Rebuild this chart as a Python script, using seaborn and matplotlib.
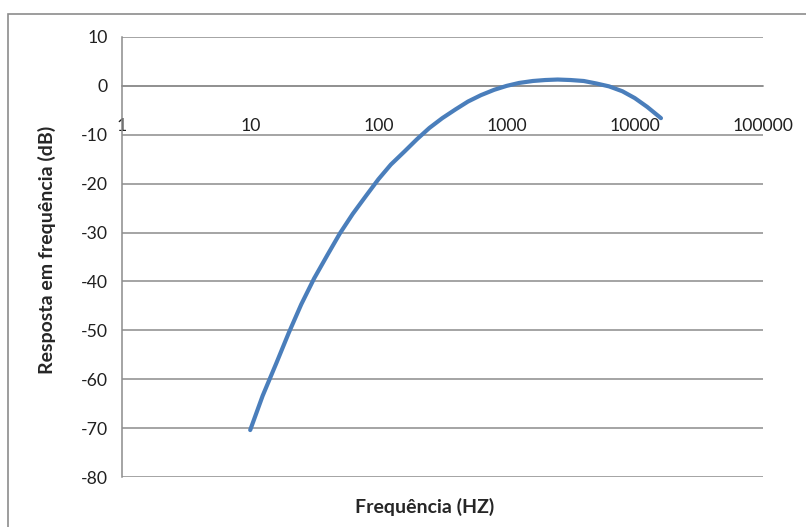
import matplotlib
matplotlib.use("Agg")
import matplotlib.pyplot as plt
import matplotlib.patches as mpatches
from matplotlib.ticker import FixedLocator, FixedFormatter
import seaborn as sns
import pandas as pd

# frequency response (Hz, dB)
freq_hz = [10, 12.5, 16, 20, 25, 31.5, 40, 50, 63, 80, 100, 125, 160, 200,
           250, 315, 400, 500, 630, 800, 1000, 1250, 1600, 2000, 2500, 3150,
           4000, 5000, 6300, 8000, 10000, 12500, 16000]
resp_db = [-70.4, -63.4, -56.7, -50.5, -44.7, -39.4, -34.6, -30.2, -26.2,
           -22.5, -19.1, -16.1, -13.4, -10.9, -8.6, -6.6, -4.8, -3.2, -1.9,
           -0.8, 0.0, 0.6, 1.0, 1.2, 1.3, 1.2, 1.0, 0.5, -0.1, -1.1, -2.5,
           -4.3, -6.6]
x_ticks = [1, 10, 100, 1000, 10000, 100000]
x_tick_labels = ["1", "10", "100", "1000", "10000", "100000"]
y_ticks = [10, 0, -10, -20, -30, -40, -50, -60, -70, -80]

df = pd.DataFrame({"freq": freq_hz, "db": resp_db})

sns.set_style("white")
plt.rcParams["font.family"] = ["Lato", "DejaVu Sans"]
plt.rcParams["axes.unicode_minus"] = False

fig = plt.figure(figsize=(8.06, 5.27), dpi=100)
ax = fig.add_axes([122 / 806, 1 - 477 / 527, 641 / 806, 440 / 527])

# outer chart border
fig.patches.append(mpatches.Rectangle((8 / 806, -0.1), 1.2, 1 - 14 / 527 + 0.1,
                                      transform=fig.transFigure, fill=False,
                                      edgecolor="#8c8c8c", linewidth=1.2))

for y in y_ticks:
    ax.axhline(y, color="#8c8c8c", linewidth=1.1, zorder=1)

sns.lineplot(data=df, x="freq", y="db", ax=ax, color="#4a7ebb",
             linewidth=3.0, zorder=3)

ax.set_xscale("log")
ax.set_xlim(1, 100000)
ax.set_ylim(-80, 10)

for s in ["top", "right"]:
    ax.spines[s].set_visible(False)
ax.spines["left"].set_color("#8c8c8c")
ax.spines["left"].set_linewidth(1.1)
ax.spines["bottom"].set_position(("data", 0))
ax.spines["bottom"].set_color("#8c8c8c")
ax.spines["bottom"].set_linewidth(1.1)

ax.xaxis.set_major_locator(FixedLocator(x_ticks))
ax.xaxis.set_major_formatter(FixedFormatter(x_tick_labels))
ax.xaxis.set_minor_locator(FixedLocator([]))
ax.set_yticks(y_ticks)

ax.tick_params(axis="x", direction="out", length=5, width=1.1,
               color="#8c8c8c", pad=18, labelsize=12.7, labelcolor="#202020")
ax.tick_params(axis="y", direction="out", length=5, width=1.1,
               color="#8c8c8c", pad=5, labelsize=12.7, labelcolor="#202020")

ax.set_xlabel("")
ax.set_ylabel("")
fig.text(425 / 806, 1 - 507 / 527, "Frequência (HZ)", ha="center",
         va="center", fontsize=14, fontweight="bold")
fig.text(47 / 806, 1 - 250 / 527, "Resposta em frequência (dB)", ha="center",
         va="center", rotation=90, fontsize=14, fontweight="bold")

fig.savefig("out.png", dpi=100)
